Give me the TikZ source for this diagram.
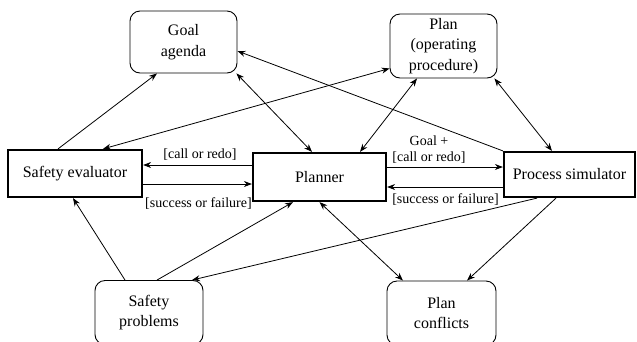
\documentclass[tikz,border=0pt]{standalone}
\usepackage{fontspec}
\setmainfont{Liberation Serif}
\usetikzlibrary{arrows.meta,calc}
\begin{document}
\begin{tikzpicture}[x=1pt,y=-1pt,
  soft/.style={draw,rounded corners=10pt,line width=0.9pt,align=center,font=\fontsize{16}{20.5}\selectfont,inner sep=0pt},
  hard/.style={draw,line width=2.2pt,align=center,font=\fontsize{16}{20}\selectfont,inner sep=0pt},
  lab/.style={font=\fontsize{14}{16}\selectfont,inner sep=0pt,align=center},
  tip/.style={Stealth[length=8pt,width=6pt]},
  arr/.style={line width=0.8pt,-{Stealth[length=8pt,width=6pt]}},
  dbl/.style={line width=0.8pt,{Stealth[length=8pt,width=6pt]}-{Stealth[length=8pt,width=6pt]}}]
\useasboundingbox (0,0) rectangle (637,341);

\node[soft,minimum width=107pt,minimum height=62pt] (GA) at (183.5,42) {Goal\\agenda};
\node[soft,minimum width=107pt,minimum height=64pt] (PL) at (443.5,46) {Plan\\(operating\\procedure)};
\node[hard,minimum width=134pt,minimum height=47pt] (SE) at (75,173.5) {Safety evaluator};
\node[hard,minimum width=133pt,minimum height=48pt] (PN) at (319.5,177) {Planner};
\node[hard,minimum width=131pt,minimum height=45pt] (PS) at (569.5,174.5) {Process simulator};
\node[soft,minimum width=108pt,minimum height=64pt] (SP) at (149,312.5) {Safety\\problems};
\node[soft,minimum width=109pt,minimum height=64pt] (PC) at (441.5,313) {Plan\\conflicts};

% top connections
\draw[arr] ($(SE.north)+(-17,0)$) -- ($(GA.south)+(-26.5,0)$);
\draw[arr] ($(PS.north west)+(0,0)$) -- ($(GA.east)+(0,9)$);
\draw[dbl] ($(GA.south east)+(-1,0)$) -- ($(PN.north)+(-7.5,0)$);
\draw[dbl] ($(SE.north)+(28,0)$) -- ($(PL.south west)+(0,-10)$);
\draw[dbl] ($(PL.south)+(-26.5,0)$) -- ($(PN.north)+(40.5,0)$);
\draw[dbl] ($(PL.south east)+(-3,0)$) -- ($(PS.north)+(-17.5,0)$);

% horizontal connections
\coordinate (a1) at ($(PN.west)+(0,-12)$);
\draw[arr] (a1) -- (a1 -| SE.east);
\coordinate (a2) at ($(SE.east)+(0,10.5)$);
\draw[arr] (a2) -- (a2 -| PN.west);
\coordinate (a3) at ($(PN.east)+(0,-10)$);
\draw[arr] (a3) -- (a3 -| PS.west);
\coordinate (a4) at ($(PS.east)+(0,12.5)$);
\draw[arr] (a4 -| PS.west) -- (a4 -| PN.east);

\node[lab] (l1) at (200,155) {[call or redo]};
\node[lab] (l2) at (198.5,204) {[success or failure]};
\node[lab] (l3) at (429,150) {Goal +\\{}[call or redo]};
\node[lab] (l4) at (445.5,200) {[success or failure]};

% bottom connections
\draw[arr] ($(SP.north)+(-24,0)$) -- ($(SE.south)+(-2,0)$);
\draw[arr] ($(SP.north)+(8,0)$) -- ($(PN.south)+(-26.5,0)$);
\draw[arr] ($(PS.south)+(-32.5,0)$) -- ($(SP.north)+(43,0)$);
\draw[dbl] (PN.south) -- ($(PC.north)+(-38.5,0)$);
\draw[arr] ($(PS.south)+(-13.5,0)$) -- ($(PC.north)+(25.5,0)$);
\end{tikzpicture}
\end{document}
